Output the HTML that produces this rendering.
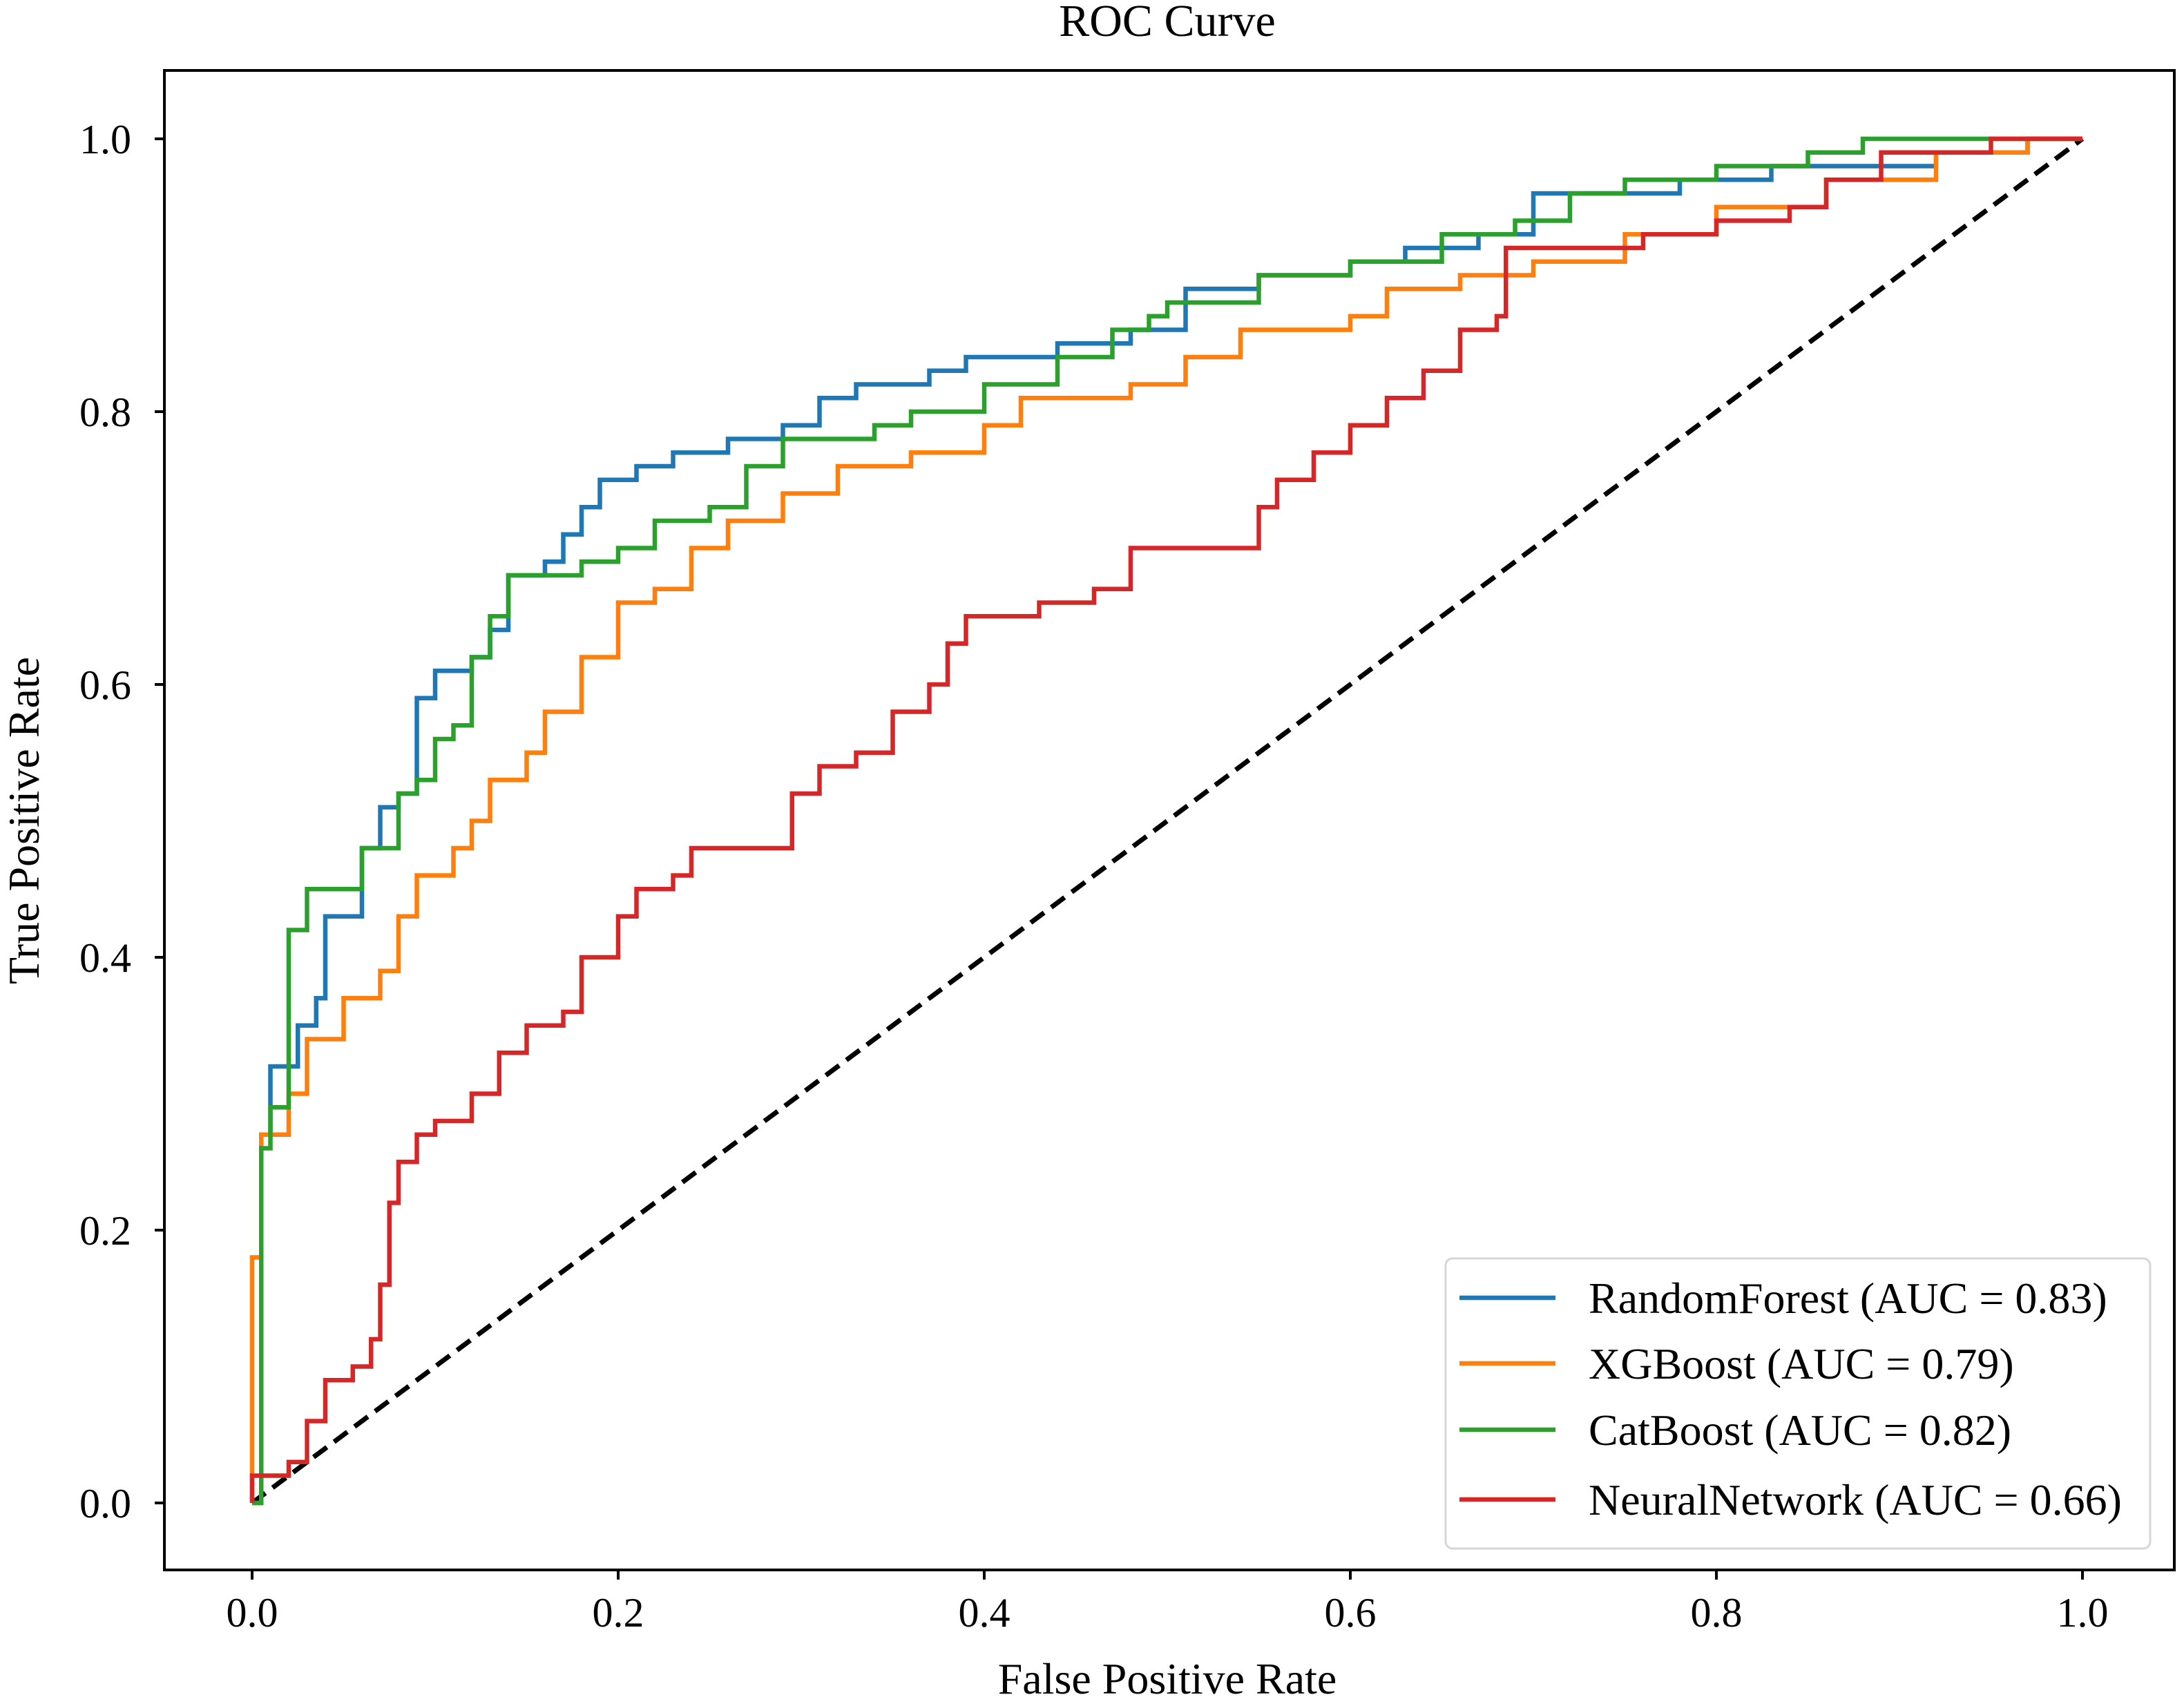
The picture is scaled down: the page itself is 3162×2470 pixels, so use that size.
<!DOCTYPE html>
<html><head><meta charset="utf-8"><style>
html,body{margin:0;padding:0;background:#fff;}
svg{display:block;font-family:"Liberation Serif",serif;}
</style></head><body>
<svg id="chart" width="3162" height="2470" viewBox="0 0 3162 2470">
<rect width="3162" height="2470" fill="#fff"/>
<text x="1690" y="52" font-size="66" text-anchor="middle">ROC Curve</text>
<g id="plot"></g>
<rect x="238" y="102" width="2910" height="2171" fill="none" stroke="#000" stroke-width="4"/>
<text x="1690" y="2452" font-size="64" text-anchor="middle">False Positive Rate</text>
<text transform="translate(56,1188) rotate(-90)" font-size="64" text-anchor="middle">True Positive Rate</text>
<g id="legend">
<rect x="2093" y="1822" width="1020" height="420" rx="10" fill="#fff" fill-opacity="0.85" stroke="#d6d6d6" stroke-width="3"/>
</g>
</svg>
<script>
const xTicks=[0,0.2,0.4,0.6,0.8,1.0];
const yTicks=[0,0.2,0.4,0.6,0.8,1.0];
const tickLabels=["0.0","0.2","0.4","0.6","0.8","1.0"];
const seriesNames=["RandomForest (AUC = 0.83)","XGBoost (AUC = 0.79)","CatBoost (AUC = 0.82)","NeuralNetwork (AUC = 0.66)"];
const rfFpr=[0,0.005,0.01,0.02,0.025,0.035,0.04,0.055,0.06,0.07,0.08,0.09,0.1,0.12,0.13,0.14,0.16,0.17,0.18,0.19,0.21,0.23,0.26,0.29,0.31,0.33,0.37,0.39,0.44,0.48,0.51,0.55,0.6,0.63,0.67,0.7,0.75,0.78,0.83,0.92,0.97,1.0];
const rfTpr=[0,0.27,0.32,0.32,0.35,0.37,0.43,0.43,0.48,0.51,0.52,0.59,0.61,0.62,0.64,0.68,0.69,0.71,0.73,0.75,0.76,0.77,0.78,0.79,0.81,0.82,0.83,0.84,0.85,0.86,0.89,0.90,0.91,0.92,0.93,0.96,0.96,0.97,0.98,0.99,1.0,1.0];
const xgFpr=[0,0,0.005,0.02,0.03,0.05,0.07,0.08,0.09,0.11,0.12,0.13,0.15,0.16,0.18,0.2,0.22,0.24,0.26,0.29,0.32,0.36,0.4,0.42,0.48,0.51,0.54,0.6,0.62,0.66,0.7,0.75,0.8,0.86,0.92,0.97,1.0];
const xgTpr=[0,0.18,0.27,0.30,0.34,0.37,0.39,0.43,0.46,0.48,0.50,0.53,0.55,0.58,0.62,0.66,0.67,0.70,0.72,0.74,0.76,0.77,0.79,0.81,0.82,0.84,0.86,0.87,0.89,0.90,0.91,0.93,0.95,0.97,0.99,1.0,1.0];
const cbFpr=[0,0.005,0.01,0.02,0.03,0.055,0.06,0.08,0.09,0.1,0.11,0.12,0.13,0.14,0.17,0.18,0.2,0.22,0.25,0.27,0.29,0.34,0.36,0.4,0.44,0.47,0.49,0.5,0.55,0.6,0.65,0.69,0.72,0.75,0.8,0.85,0.88,1.0];
const cbTpr=[0,0.26,0.29,0.42,0.45,0.45,0.48,0.52,0.53,0.56,0.57,0.62,0.65,0.68,0.68,0.69,0.70,0.72,0.73,0.76,0.78,0.79,0.80,0.82,0.84,0.86,0.87,0.88,0.90,0.91,0.93,0.94,0.96,0.97,0.98,0.99,1.0,1.0];
const nnFpr=[0,0,0.02,0.03,0.04,0.055,0.065,0.07,0.075,0.08,0.09,0.1,0.12,0.135,0.15,0.17,0.18,0.2,0.21,0.23,0.24,0.29,0.295,0.31,0.33,0.35,0.37,0.38,0.39,0.43,0.46,0.48,0.54,0.55,0.56,0.58,0.6,0.62,0.64,0.66,0.68,0.685,0.72,0.76,0.8,0.84,0.86,0.89,0.92,0.95,1.0];
const nnTpr=[0,0.02,0.03,0.06,0.09,0.10,0.12,0.16,0.22,0.25,0.27,0.28,0.30,0.33,0.35,0.36,0.40,0.43,0.45,0.46,0.48,0.48,0.52,0.54,0.55,0.58,0.60,0.63,0.65,0.66,0.67,0.70,0.70,0.73,0.75,0.77,0.79,0.81,0.83,0.86,0.87,0.92,0.92,0.93,0.94,0.95,0.97,0.99,0.99,1.0,1.0];
const seriesColors=["#1f77b4","#ff7f0e","#2ca02c","#d62728"];

const NS="http://www.w3.org/2000/svg";
const X0=365,X1=3015,Y0=2176,Y1=201;
function sx(v){return X0+(X1-X0)*v;}
function sy(v){return Y0-(Y0-Y1)*v;}
const plot=document.getElementById('plot');
const svg=document.getElementById('chart');
function mk(tag,attrs,parent){const e=document.createElementNS(NS,tag);for(const k in attrs)e.setAttribute(k,attrs[k]);parent.appendChild(e);return e;}

xTicks.forEach((t,i)=>{
  const l=mk('line',{x1:sx(t),x2:sx(t),y1:2273,y2:2287,stroke:'#000','stroke-width':4},svg);
  
  
  const tx=mk('text',{x:sx(t),y:2355,'font-size':60,'text-anchor':'middle'},svg);
  tx.textContent=tickLabels[i];
  
  
});
yTicks.forEach((t,i)=>{
  const l=mk('line',{x1:224,x2:238,y1:sy(t),y2:sy(t),stroke:'#000','stroke-width':4},svg);
  
  
  const tx=mk('text',{x:190,y:sy(t)+21,'font-size':60,'text-anchor':'end'},svg);
  tx.textContent=tickLabels[i];
  
  
});

const diag=mk('line',{x1:sx(0),y1:sy(0),x2:sx(1),y2:sy(1),stroke:'#000','stroke-width':7,'stroke-dasharray':'24,13'},plot);



function stepPath(fx,ty){
  let d='M'+sx(fx[0])+','+sy(ty[0]);
  for(let i=1;i<fx.length;i++){d+=' L'+sx(fx[i])+','+sy(ty[i-1])+' L'+sx(fx[i])+','+sy(ty[i]);}
  return d;
}
const fprs=[rfFpr,xgFpr,cbFpr,nnFpr],tprs=[rfTpr,xgTpr,cbTpr,nnTpr];
const curveNames=['randomforest-curve','xgboost-curve','catboost-curve','neuralnetwork-curve'];
fprs.forEach((f,i)=>{
  const p=mk('path',{d:stepPath(f,tprs[i]),fill:'none',stroke:seriesColors[i],'stroke-width':6.5,'stroke-linejoin':'miter'},plot);
  
  
});

const leg=document.getElementById('legend');
const rowY=[1879,1974,2070,2171];
seriesNames.forEach((n,i)=>{
  const l=mk('line',{x1:2113,x2:2252,y1:rowY[i],y2:rowY[i],stroke:seriesColors[i],'stroke-width':6.5},leg);
  
  
  const t=mk('text',{x:2300,y:rowY[i]+22,'font-size':64},leg);
  t.textContent=n;
  
  
});
</script>
</body></html>
